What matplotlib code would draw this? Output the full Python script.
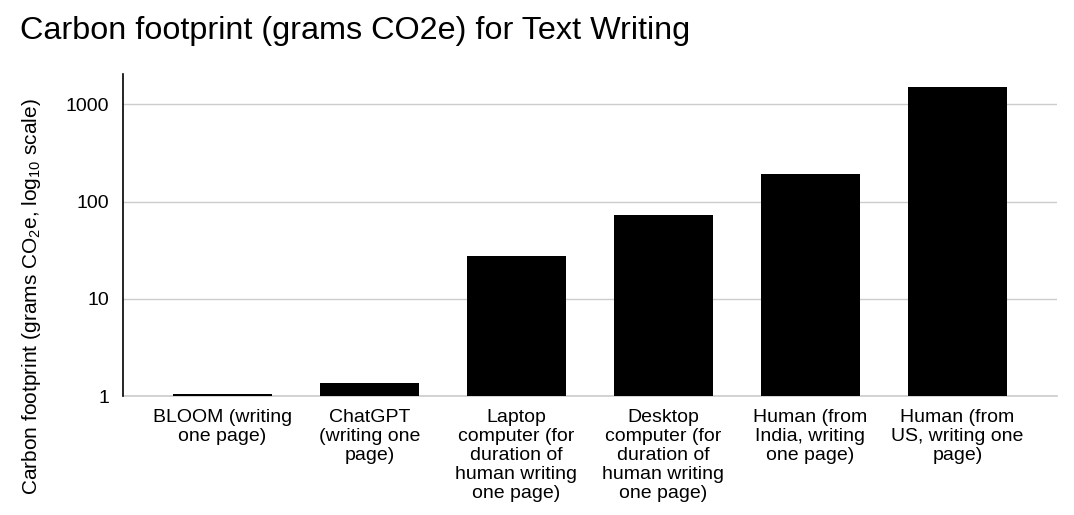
import matplotlib
matplotlib.use("Agg")
import matplotlib.pyplot as plt
from matplotlib import ticker

plt.rcParams['font.family'] = ['Liberation Sans', 'DejaVu Sans']
plt.rcParams['mathtext.fontset'] = 'custom'
plt.rcParams['mathtext.rm'] = 'Liberation Sans'
plt.rcParams['mathtext.it'] = 'Liberation Sans:italic'

# values (grams CO2e)
categories = [
    "BLOOM (writing\none page)",
    "ChatGPT\n(writing one\npage)",
    "Laptop\ncomputer (for\nduration of\nhuman writing\none page)",
    "Desktop\ncomputer (for\nduration of\nhuman writing\none page)",
    "Human (from\nIndia, writing\none page)",
    "Human (from\nUS, writing one\npage)",
]
grams = [1.04, 1.35, 27.5, 72, 190, 1490]
yticks = [1, 10, 100, 1000]

fig = plt.figure(figsize=(10.74, 5.15), dpi=100)
ax = fig.add_axes([0.1145, 0.231, 0.8695, 0.625])

x = list(range(len(categories)))
ax.bar(x, [g - 1 for g in grams], width=0.673, color="black", bottom=1, zorder=3)

ax.set_yscale("log")
ax.set_ylim(1, 2040)
ax.set_xlim(-0.677, 5.677)
ax.set_yticks(yticks)
ax.yaxis.set_major_formatter(ticker.FuncFormatter(lambda v, p: "%d" % v))
ax.yaxis.set_minor_locator(ticker.NullLocator())
ax.set_xticks(x)
ax.set_xticklabels(categories, fontsize=14, va="top", linespacing=1.17)
ax.tick_params(axis="both", length=0)
ax.tick_params(axis="y", labelsize=14, pad=10)
ax.tick_params(axis="x", pad=9)

ax.grid(axis="y", color="#cccccc", linewidth=1, zorder=0)
ax.axhline(1, color="#cccccc", linewidth=1.2, zorder=1, clip_on=False)
for s in ["top", "right", "bottom"]:
    ax.spines[s].set_visible(False)
ax.spines["left"].set_color("black")
ax.spines["left"].set_linewidth(1.2)
ax.spines["left"].set_zorder(4)

ax.set_ylabel("Carbon footprint (grams CO$_2$e, log$_{10}$ scale)", fontsize=15)
ax.yaxis.set_label_coords(-0.0857, 0.31)

fig.text(0.019, 0.94, "Carbon footprint (grams CO2e) for Text Writing", fontsize=23.3, va="center", ha="left")

fig.savefig("out.png", dpi=100)
